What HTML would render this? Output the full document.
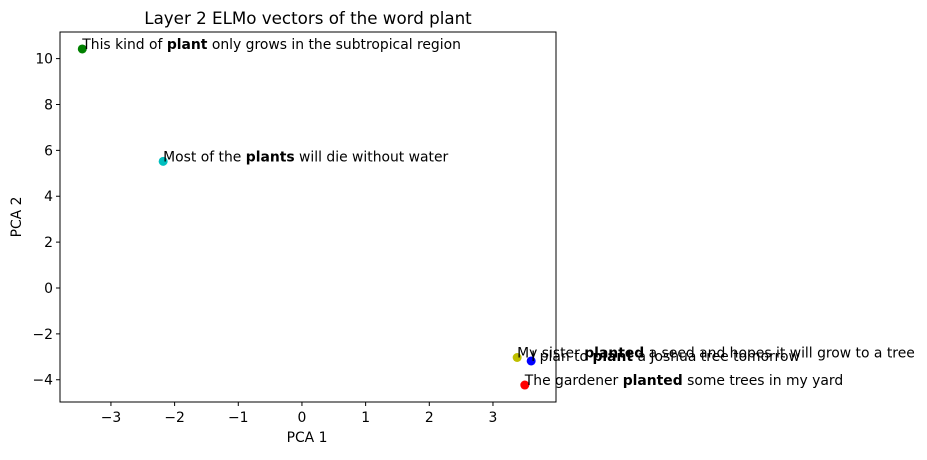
<!DOCTYPE html>
<html><head><meta charset="utf-8"><style>
body{margin:0;background:#fff}
svg{font-family:"DejaVu Sans","Liberation Sans",sans-serif}
</style></head><body>
<svg width="927" height="455">
<g id="chart"></g>
</svg>
<script>
const labelsPre=["This kind of ","Most of the ","My sister ","I plan to ","The gardener "];
const labelsBold=["plant","plants","planted","plant","planted"];
const labelsPost=[" only grows in the subtropical region"," will die without water"," a seed and hopes it will grow to a tree"," a Joshua tree tomorrow"," some trees in my yard"];
const xVals=[-3.45,-2.18,3.38,3.6,3.5];
const yVals=[10.42,5.52,-3.03,-3.18,-4.23];
const colors=["#008000","#00bfbf","#bfbf00","#0000ff","#ff0000"];
const xTicks=[-3,-2,-1,0,1,2,3];
const yTicks=[-4,-2,0,2,4,6,8,10];
const L=60,R=556,T=32,B=402,xmin=-3.8,xmax=3.99,ymin=-4.97,ymax=11.16;
const sx=v=>L+(v-xmin)/(xmax-xmin)*(R-L);
const sy=v=>B-(v-ymin)/(ymax-ymin)*(B-T);
const g=document.getElementById('chart');
const NS="http://www.w3.org/2000/svg";
const FS=13.9;
function mk(t,a,txt){const e=document.createElementNS(NS,t);for(const k in a)e.setAttribute(k,a[k]);if(txt!=null)e.textContent=txt;g.appendChild(e);return e;}
let e;
e=mk('text',{x:308,y:24,'font-size':16.7,'text-anchor':'middle',fill:'#000'},'Layer 2 ELMo vectors of the word plant');


xTicks.forEach(v=>{const x=sx(v);
e=mk('line',{x1:x,x2:x,y1:B,y2:B+4,stroke:'#000'});


e=mk('text',{x:x,y:B+20,'font-size':FS,'text-anchor':'middle'},v<0?'\u2212'+(-v):String(v));

});
yTicks.forEach(v=>{const y=sy(v);
e=mk('line',{x1:L-4,x2:L,y1:y,y2:y,stroke:'#000'});


e=mk('text',{x:L-7,y:y+5,'font-size':FS,'text-anchor':'end'},v<0?'\u2212'+(-v):String(v));

});
e=mk('text',{x:307,y:442,'font-size':FS,'text-anchor':'middle'},'PCA 1');


e=mk('text',{x:21,y:217,'font-size':FS,'text-anchor':'middle',transform:'rotate(-90 21 217)'},'PCA 2');


xVals.forEach((v,i)=>{const x=sx(v),y=sy(yVals[i]);
e=mk('circle',{cx:x,cy:y,r:4.5,fill:colors[i]});


e=mk('text',{x:x,y:y,'font-size':FS,fill:'#000'});


const a=document.createElementNS(NS,'tspan');a.textContent=labelsPre[i];e.appendChild(a);
const b=document.createElementNS(NS,'tspan');b.setAttribute('font-weight','bold');b.textContent=labelsBold[i];e.appendChild(b);
const c=document.createElementNS(NS,'tspan');c.textContent=labelsPost[i];e.appendChild(c);});
e=mk('rect',{x:L,y:T,width:R-L,height:B-T,fill:'none',stroke:'#000','stroke-width':1});


</script>
</body></html>
